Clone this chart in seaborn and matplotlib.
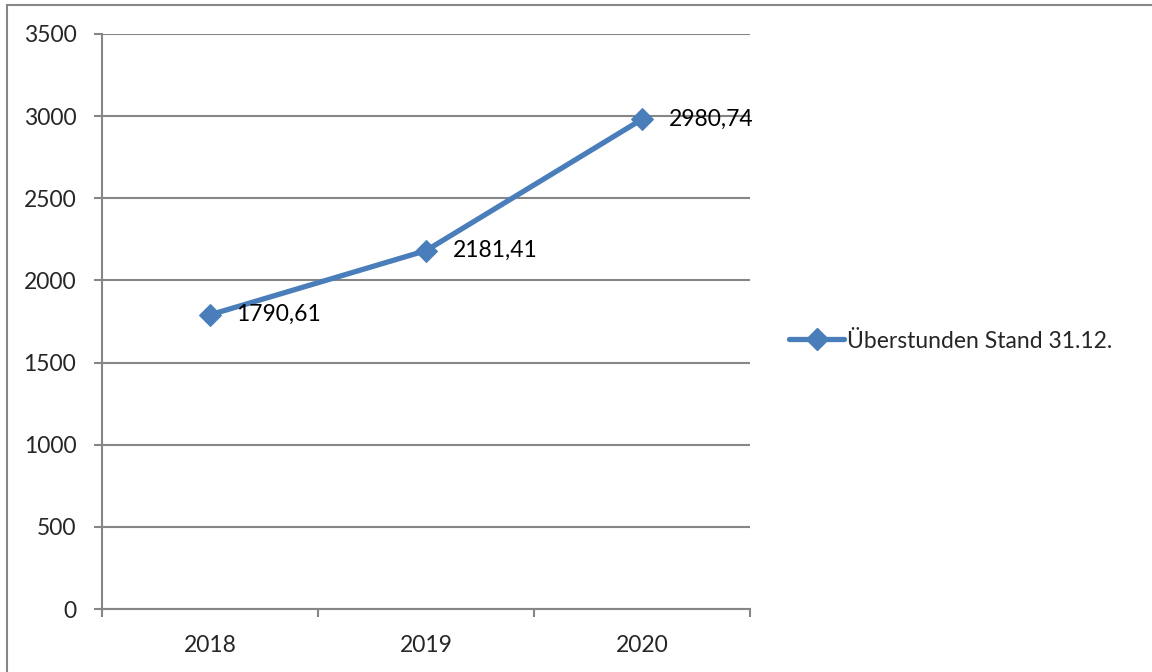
import matplotlib
matplotlib.use("Agg")
import matplotlib.pyplot as plt
import seaborn as sns
import pandas as pd
from matplotlib.patches import Rectangle
from matplotlib.lines import Line2D

years = ["2018", "2019", "2020"]
overtime = [1790.61, 2181.41, 2980.74]
series_name = "Überstunden Stand 31.12."
y_ticks = [0, 500, 1000, 1500, 2000, 2500, 3000, 3500]

sns.set_theme(style="white")
plt.rcParams["font.family"] = ["Lato", "DejaVu Sans"]

blue = "#4A7EBB"
grey = "#868686"
fs = 16.5

df = pd.DataFrame({"pos": range(len(years)), "year": years, "value": overtime})

fig = plt.figure(figsize=(11.52, 6.72), dpi=100)
ax = fig.add_axes([102 / 1152, 1 - 609 / 672, 648 / 1152, 575 / 672])

sns.lineplot(data=df, x="pos", y="value", ax=ax, color=blue, linewidth=3.8,
             marker="D", markersize=11, markeredgecolor=blue, sort=False,
             label=series_name, legend=False)

for p, v in zip(df["pos"], df["value"]):
    ax.annotate(f"{v:.2f}".replace(".", ","), (p, v), xytext=(19, 0),
                textcoords="offset points", ha="left", va="center",
                fontsize=fs, color="black")

ax.set_xlim(-0.5, len(years) - 0.5)
ax.set_ylim(0, 3500)
ax.set_yticks(y_ticks)
ax.set_yticklabels([str(t) for t in y_ticks])
ax.set_xticks([i - 0.5 for i in range(len(years) + 1)])
ax.set_xticklabels([])
ax.set_xticks(list(range(len(years))), minor=True)
ax.set_xticklabels(years, minor=True)
ax.set_xlabel("")
ax.set_ylabel("")

ax.grid(axis="y", color=grey, linewidth=1.5)
ax.set_axisbelow(True)
for side in ["top", "right"]:
    ax.spines[side].set_visible(False)
for side in ["left", "bottom"]:
    ax.spines[side].set_color(grey)
    ax.spines[side].set_linewidth(1.5)

ax.tick_params(axis="y", which="major", direction="out", length=5.5, width=1.5,
               color=grey, labelsize=fs, pad=13, left=True)
ax.tick_params(axis="x", which="major", direction="out", length=5.5, width=1.5,
               color=grey, bottom=True)
ax.tick_params(axis="x", which="minor", length=0, labelsize=fs, pad=19)

handle = Line2D([], [], color=blue, linewidth=3.8, marker="D", markersize=11,
                markeredgecolor=blue)
fig.legend([handle], [series_name], loc="center left",
           bbox_to_anchor=(789 / 1152, 1 - 341 / 672), frameon=False,
           fontsize=fs, handlelength=2.4, handletextpad=0.12, borderaxespad=0,
           borderpad=0)

fig.patches.append(Rectangle((7 / 1152, -0.1), 1.2, 1 - 5 / 672 + 0.1,
                             transform=fig.transFigure, fill=False,
                             edgecolor=grey, linewidth=1.5))

fig.savefig("out.png", dpi=100, facecolor="white")
